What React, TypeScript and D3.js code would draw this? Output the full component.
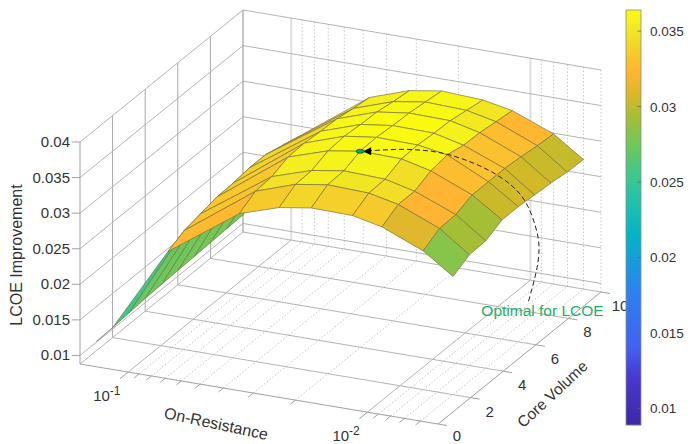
import React from 'react';
import * as d3 from 'd3';

const onResistance = [0.159, 0.0933, 0.047, 0.032, 0.0235, 0.0158, 0.0119, 0.008, 0.006];
const coreVolume = [2, 3, 4, 5, 6, 7, 8, 9, 10];
// one array per column of the mesh, value for each core volume
const z0 = [0.0102, 0.0104, 0.0106, 0.0107, 0.0108, 0.0109, 0.011, 0.0111, 0.0112];
const z1 = [0.0222, 0.0233, 0.0238, 0.0243, 0.0244, 0.0247, 0.0247, 0.0241, 0.0235];
const z2 = [0.0292, 0.0305, 0.0307, 0.0316, 0.0317, 0.0315, 0.0314, 0.031, 0.0307];
const z3 = [0.031, 0.0324, 0.0325, 0.0334, 0.0336, 0.0334, 0.0333, 0.0329, 0.0326];
const z4 = [0.0317, 0.0331, 0.0332, 0.0341, 0.0342, 0.034, 0.0339, 0.0336, 0.0333];
const z5 = [0.0316, 0.0329, 0.033, 0.034, 0.0341, 0.0339, 0.0338, 0.0334, 0.033];
const z6 = [0.0307, 0.032, 0.032, 0.033, 0.0334, 0.0329, 0.0328, 0.0325, 0.0322];
const z7 = [0.0283, 0.0296, 0.0297, 0.0306, 0.0306, 0.0306, 0.0304, 0.0301, 0.0299];
const z8 = [0.0254, 0.0266, 0.0267, 0.0278, 0.0278, 0.0276, 0.0274, 0.0271, 0.027];
const zColumns = [z0, z1, z2, z3, z4, z5, z6, z7, z8];
// colour value of each mesh cell, one array per strip between columns
const c0 = [0.0252, 0.0272, 0.0274, 0.0275, 0.0276, 0.0276, 0.0277, 0.0277];
const c1 = [0.0325, 0.0332, 0.0334, 0.0336, 0.0338, 0.034, 0.0341, 0.0342];
const c2 = [0.0335, 0.0347, 0.0354, 0.0358, 0.036, 0.036, 0.0358, 0.0354];
const c3 = [0.0341, 0.0356, 0.0358, 0.0362, 0.0364, 0.0364, 0.0362, 0.036];
const c4 = [0.0338, 0.035, 0.0358, 0.0363, 0.0364, 0.0364, 0.0362, 0.036];
const c5 = [0.0335, 0.0345, 0.0346, 0.0358, 0.036, 0.0357, 0.0352, 0.035];
const c6 = [0.031, 0.0322, 0.0322, 0.0329, 0.0331, 0.0331, 0.0329, 0.0323];
const c7 = [0.0283, 0.0293, 0.0293, 0.0303, 0.0305, 0.0305, 0.0303, 0.0302];
const cellColors = [c0, c1, c2, c3, c4, c5, c6, c7];

const tailVolume = [1, 2];
const tailValue = [0.0101, 0.0102];
const optimum = { r: 0.0235, v: 5, z: 0.0341 };

const zTicks = [0.01, 0.015, 0.02, 0.025, 0.03, 0.035, 0.04];
const yTicks = [0, 2, 4, 6, 8, 10];
const xMajor = [0.1, 0.01];
const xMinor = [0.09, 0.08, 0.07, 0.06, 0.05, 0.04, 0.03, 0.02, 0.009, 0.008, 0.007, 0.006];
const barTicks = [0.01, 0.015, 0.02, 0.025, 0.03, 0.035];
const colorStopValues = [0.0089, 0.012, 0.014, 0.018, 0.0215, 0.025, 0.0275, 0.0295, 0.0305, 0.0322, 0.0332, 0.0341, 0.035, 0.0359, 0.0364];
const colorStops = ['#3e26a8', '#4738d0', '#4360f0', '#2a85f0', '#02b4c8', '#35c896', '#6ec85a', '#aabe32', '#d2b928', '#ffb432', '#fac32d', '#f2d728', '#f2e623', '#f6f519', '#fafa0f'];
const arcPath: [number, number][] = [[367, 151], [410, 149.5], [450, 155], [497, 175], [523, 198], [538, 237], [538, 262], [528, 303]];

const color = d3.scaleLinear<string>().domain(colorStopValues).range(colorStops).interpolate(d3.interpolateRgb);
const uScale = d3.scaleLog().domain([0.159, 0.00507]).range([0, 1]);
const vScale = d3.scaleLinear().domain([0, 10]).range([0, 1]);
const hScale = d3.scaleLinear().domain([0.0088, 0.04]).range([0, 222]);
const barScale = d3.scaleLinear().domain([0.0089, 0.0364]).range([425, 10]);

const P = (r: number, v: number, z: number): [number, number] => {
  const u = uScale(r), w = vScale(v);
  return [80 + 358 * u + 163 * w, 364 + 60 * u - 132 * w - hScale(z)];
};
const ZMIN = 0.0088, ZMAX = 0.04, RMAX = 0.159, RMIN = 0.00507;
const line = d3.line();
const arc = d3.line().curve(d3.curveCatmullRom.alpha(0.5));
const TXT = '#333';
const FONT = '"Liberation Sans", Arial, sans-serif';
const GRID = '#b4b4b4';

const Ln = ({ a, b, s = GRID, w = 1, d }: { a: [number, number]; b: [number, number]; s?: string; w?: number; d?: string }) => (
  <line x1={a[0]} y1={a[1]} x2={b[0]} y2={b[1]} stroke={s} strokeWidth={w} strokeDasharray={d} />
);

export default function App() {
  const cells: React.ReactNode[] = [];
  for (let c = 0; c < onResistance.length - 1; c++) {
    for (let k = coreVolume.length - 2; k >= 0; k--) {
      const pts = [
        P(onResistance[c], coreVolume[k], zColumns[c][k]),
        P(onResistance[c + 1], coreVolume[k], zColumns[c + 1][k]),
        P(onResistance[c + 1], coreVolume[k + 1], zColumns[c + 1][k + 1]),
        P(onResistance[c], coreVolume[k + 1], zColumns[c][k + 1]),
      ];
      cells.push(
        <path key={c + '-' + k} d={line(pts)! + 'Z'} fill={color(cellColors[c][k])} stroke="#7a7440" strokeWidth={0.7} strokeLinejoin="round" />
      );
    }
  }
  const opt = P(optimum.r, optimum.v, optimum.z);
  const tail = tailVolume.map((v, i) => P(RMAX, v, tailValue[i]));
  const barRows = d3.range(10, 425);
  return (
    <svg width={691} height={444} style={{ position: 'absolute', left: 0, top: 0, background: '#fff' }} fontFamily={FONT}>
      {/* walls and floor grid */}
      {xMinor.map(r => (
        <g key={r}>
          <Ln a={P(r, 0, ZMIN)} b={P(r, 10, ZMIN)} s="#c4c4c4" d="1.5 2" />
          <Ln a={P(r, 10, ZMIN)} b={P(r, 10, ZMAX)} s="#c8c8c8" d="1.5 2" />
        </g>
      ))}
      {xMajor.map(r => (
        <g key={r}>
          <Ln a={P(r, 0, ZMIN)} b={P(r, 10, ZMIN)} />
          <Ln a={P(r, 10, ZMIN)} b={P(r, 10, ZMAX)} s="#dedede" w={2} />
        </g>
      ))}
      <Ln a={P(RMIN, 10, ZMIN)} b={P(RMIN, 10, ZMAX)} s="#c8c8c8" d="1.5 2" />
      {yTicks.filter(v => v > 0 && v < 10).map(v => (
        <g key={v}>
          <Ln a={P(RMAX, v, ZMIN)} b={P(RMIN, v, ZMIN)} />
          <Ln a={P(RMAX, v, ZMIN)} b={P(RMAX, v, ZMAX)} s="#a8a8a8" />
        </g>
      ))}
      {zTicks.map(z => (
        <g key={z}>
          <Ln a={P(RMAX, 0, z)} b={P(RMAX, 10, z)} />
          <Ln a={P(RMAX, 10, z)} b={P(RMIN, 10, z)} />
        </g>
      ))}
      <Ln a={P(RMAX, 10, ZMIN)} b={P(RMIN, 10, ZMIN)} />
      <Ln a={P(RMAX, 0, ZMIN)} b={P(RMAX, 10, ZMIN)} />
      <Ln a={P(RMAX, 10, ZMIN)} b={P(RMAX, 10, ZMAX)} s="#a8a8a8" w={1.3} />
      {/* axes */}
      <Ln a={P(RMAX, 0, ZMIN)} b={P(RMAX, 0, ZMAX)} s="#a0a0a0" />
      <Ln a={P(RMAX, 0, ZMIN)} b={P(RMIN, 0, ZMIN)} s="#a0a0a0" />
      <Ln a={P(RMIN, 0, ZMIN)} b={P(RMIN, 10, ZMIN)} s="#a0a0a0" />
      {zTicks.map(z => {
        const p = P(RMAX, 0, z);
        return (
          <g key={z}>
            <Ln a={p} b={[p[0] - 8, p[1]]} s="#a0a0a0" />
            <text x={p[0] - 10} y={p[1] + 5} fontSize={15} textAnchor="end" fill={TXT}>{String(z)}</text>
          </g>
        );
      })}
      {yTicks.map(v => {
        const p = P(RMIN, v, ZMIN);
        return (
          <g key={v}>
            <Ln a={p} b={[p[0] + 9, p[1] + 1.5]} s="#a0a0a0" />
            <text x={p[0] + 19} y={Math.min(p[1] + 19, 441)} fontSize={15} textAnchor="middle" fill={TXT}>{v}</text>
          </g>
        );
      })}
      {xMajor.map(r => {
        const p = P(r, 0, ZMIN);
        return (
          <g key={r}>
            <Ln a={p} b={[p[0] - 8, p[1] + 6.5]} s="#a0a0a0" />
            <text x={p[0] - 35} y={p[1] + 29} fontSize={15} fill={TXT}>
              10<tspan dy={-6} fontSize={12}>{r === 0.1 ? '-1' : '-2'}</tspan>
            </text>
          </g>
        );
      })}
      {xMinor.map(r => {
        const p = P(r, 0, ZMIN);
        return <Ln key={r} a={p} b={[p[0] - 5, p[1] + 4]} s="#a0a0a0" />;
      })}
      <text transform="translate(22,255) rotate(-90)" fontSize={16} textAnchor="middle" fill={TXT}>LCOE Improvement</text>
      <text transform="translate(215,429) rotate(12)" fontSize={16} textAnchor="middle" fill={TXT}>On-Resistance</text>
      <text transform="translate(556,398) rotate(-43)" fontSize={15.5} textAnchor="middle" fill={TXT}>Core Volume</text>
      {/* surface */}
      <path d={line(tail)!} stroke="#6a6a6a" strokeWidth={0.8} fill="none" />
      {cells}
      {/* annotation */}
      <path d={arc(arcPath)!} fill="none" stroke="#222" strokeWidth={1} strokeDasharray="5 3" />
      <path d={`M${opt[0] + 3},${opt[1]} l8,-4 v8 Z`} fill="#000" />
      <ellipse cx={opt[0]} cy={opt[1]} rx={4} ry={2} fill="#0aa864" stroke="#124a30" strokeWidth={0.8} />
      <text x={542.5} y={316} fontSize={15.5} textAnchor="middle" fill="#1db068">Optimal for LCOE</text>
      {/* colour bar */}
      {barRows.map(y => (
        <rect key={y} x={626} y={y} width={15} height={1.2} fill={color(barScale.invert(y + 0.5))} />
      ))}
      <rect x={626} y={10} width={15} height={415} fill="none" stroke="#8c8c8c" strokeWidth={0.8} />
      {barTicks.map(t => (
        <g key={t}>
          <Ln a={[637.5, barScale(t)]} b={[641, barScale(t)]} s="#666" w={0.8} />
          <text x={650} y={barScale(t) + 5} fontSize={13.5} fill={TXT}>{String(t)}</text>
        </g>
      ))}
    </svg>
  );
}
